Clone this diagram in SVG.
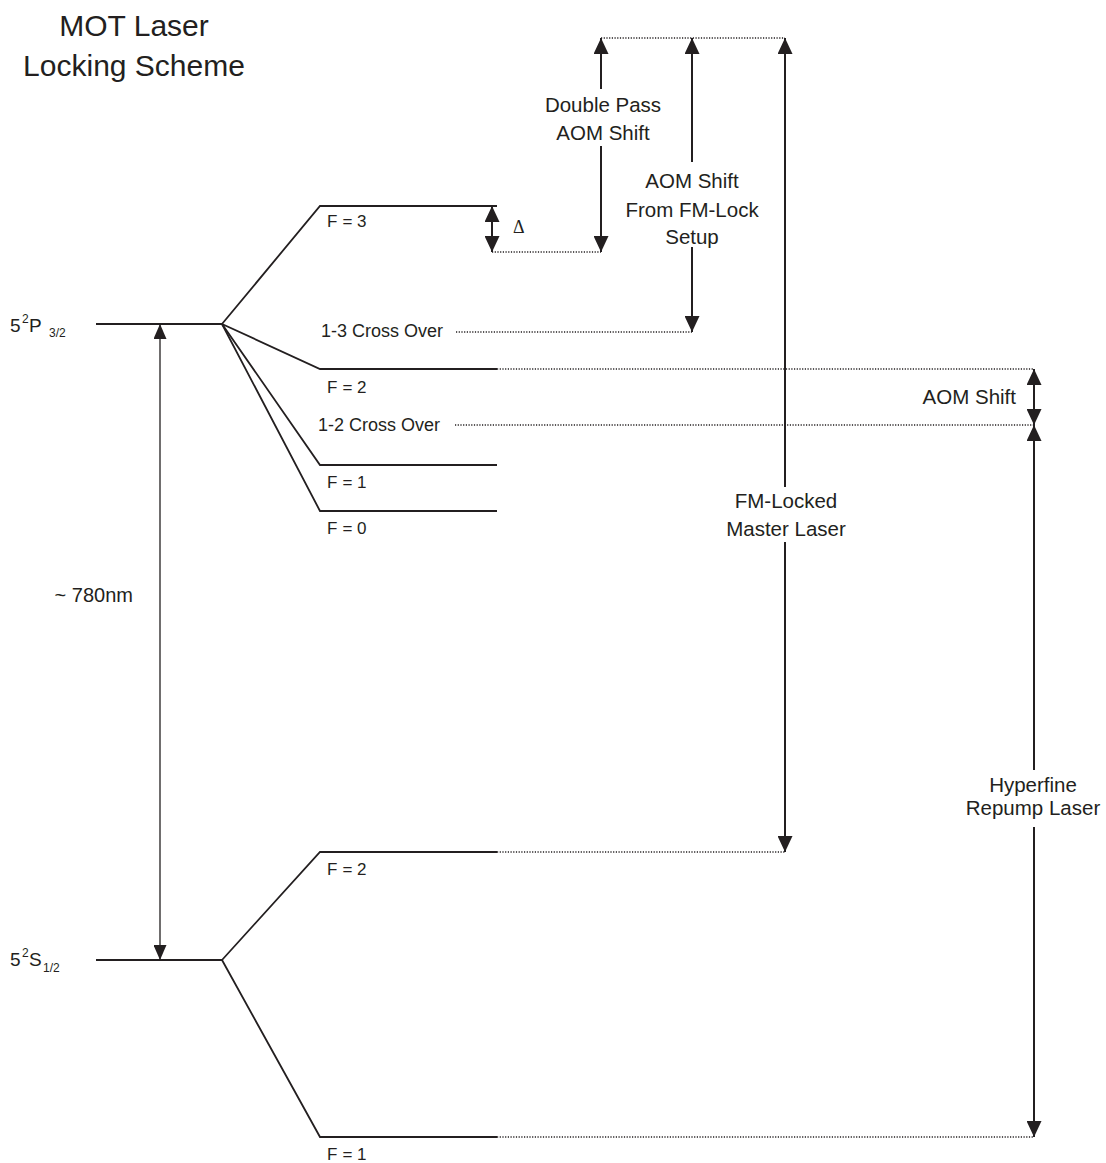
<svg xmlns="http://www.w3.org/2000/svg" width="1106" height="1163" viewBox="0 0 1106 1163">
<style>
text{font-family:"Liberation Sans",Arial,sans-serif;fill:#231f20}
.lvl{stroke:#231f20;stroke-width:2;fill:none}
.br{stroke:#231f20;stroke-width:1.8;fill:none}
.dot{stroke:#231f20;stroke-width:1.3;stroke-dasharray:1.2 1.5;fill:none}
.arr{stroke:#231f20;stroke-width:2;fill:none}
.arrs{stroke:#231f20;stroke-width:1.3;fill:none}
.t{font-size:20.5px;text-anchor:middle}
.f{font-size:17px}
.c{font-size:18px}
</style>
<defs>
<marker id="ah" markerUnits="userSpaceOnUse" viewBox="0 0 16 15" refX="16" refY="7.5" markerWidth="16" markerHeight="15" orient="auto-start-reverse"><path d="M0,0 L16,7.5 L0,15 Z" fill="#231f20"/></marker>
<marker id="ahs" markerUnits="userSpaceOnUse" viewBox="0 0 15 13" refX="15" refY="6.5" markerWidth="15" markerHeight="13" orient="auto-start-reverse"><path d="M0,0 L15,6.5 L0,13 Z" fill="#231f20"/></marker>
</defs>

<g id="title">
<text x="134" y="36" font-size="30" text-anchor="middle">MOT Laser</text>
<text x="134" y="76" font-size="30" text-anchor="middle">Locking Scheme</text>
</g>

<g id="level-5P32">
<line class="lvl" x1="96" y1="324" x2="222" y2="324"/>
<text font-size="19"><tspan x="10" y="332">5</tspan><tspan x="22" y="323" font-size="12">2</tspan><tspan x="29" y="332">P</tspan><tspan x="49" y="337" font-size="12">3/2</tspan></text>
</g>
<g id="level-5S12">
<line class="lvl" x1="96" y1="960" x2="222" y2="960"/>
<text font-size="19"><tspan x="10" y="966">5</tspan><tspan x="22" y="957" font-size="12">2</tspan><tspan x="29" y="966">S</tspan><tspan x="43" y="972" font-size="12">1/2</tspan></text>
</g>

<g id="P-F3">
<polyline class="br" points="222,324 320,206 497,206"/>
<text class="f" x="327" y="227">F<tspan dx="5">= 3</tspan></text>
</g>
<g id="P-F2">
<polyline class="br" points="222,324 320,369 497,369"/>
<text class="f" x="327" y="393">F<tspan dx="5">= 2</tspan></text>
</g>
<g id="P-F1">
<polyline class="br" points="222,324 320,465 497,465"/>
<text class="f" x="327" y="488">F<tspan dx="5">= 1</tspan></text>
</g>
<g id="P-F0">
<polyline class="br" points="222,324 320,511 497,511"/>
<text class="f" x="327" y="534">F<tspan dx="5">= 0</tspan></text>
</g>
<g id="cross-13">
<text class="c" x="321" y="337">1-3 Cross Over</text>
</g>
<g id="cross-12">
<text class="c" x="318" y="431">1-2 Cross Over</text>
</g>
<g id="S-F2">
<polyline class="br" points="222,960 320,852 497,852"/>
<text class="f" x="327" y="875">F<tspan dx="5">= 2</tspan></text>
</g>
<g id="S-F1">
<polyline class="br" points="222,960 320,1137 497,1137"/>
<text class="f" x="327" y="1160">F<tspan dx="5">= 1</tspan></text>
</g>

<g id="connectors">
<!-- dotted reference lines -->
<line class="dot" x1="601" y1="38" x2="785" y2="38"/>
<line class="dot" x1="492" y1="252" x2="601" y2="252"/>
<line class="dot" x1="456" y1="332" x2="692" y2="332"/>
<line class="dot" x1="497" y1="369" x2="1034" y2="369"/>
<line class="dot" x1="455" y1="425" x2="1034" y2="425"/>
<line class="dot" x1="497" y1="852" x2="785" y2="852"/>
<line class="dot" x1="497" y1="1137" x2="1034" y2="1137"/>

<!-- 780nm -->
<line class="arrs" x1="160" y1="324" x2="160" y2="960" marker-start="url(#ahs)" marker-end="url(#ahs)"/>
<!-- delta -->
<line class="arr" x1="492" y1="206" x2="492" y2="252" marker-start="url(#ah)" marker-end="url(#ah)"/>
<!-- double pass -->
<line class="arr" x1="601" y1="38" x2="601" y2="89" marker-start="url(#ah)"/>
<line class="arr" x1="601" y1="146" x2="601" y2="252" marker-end="url(#ah)"/>
<!-- AOM shift from FM-lock -->
<line class="arr" x1="692" y1="38" x2="692" y2="162" marker-start="url(#ah)"/>
<line class="arr" x1="692" y1="247" x2="692" y2="332" marker-end="url(#ah)"/>
<!-- FM-locked master -->
<line class="arr" x1="785" y1="38" x2="785" y2="487" marker-start="url(#ah)"/>
<line class="arr" x1="785" y1="542" x2="785" y2="852" marker-end="url(#ah)"/>
<!-- AOM shift right -->
<line class="arr" x1="1034" y1="369" x2="1034" y2="425" marker-start="url(#ah)" marker-end="url(#ah)"/>
<!-- hyperfine repump -->
<line class="arr" x1="1034" y1="425" x2="1034" y2="770" marker-start="url(#ah)"/>
<line class="arr" x1="1034" y1="827" x2="1034" y2="1137" marker-end="url(#ah)"/>
</g>

<g id="labels">
<text x="133" y="602" font-size="20" text-anchor="end">~ 780nm</text>
<text x="513" y="233" font-size="18" style="font-family:'Liberation Serif',serif">Δ</text>
<text class="t" x="603" y="112">Double Pass</text>
<text class="t" x="603" y="140">AOM Shift</text>
<text class="t" x="692" y="188">AOM Shift</text>
<text class="t" x="692" y="217">From FM-Lock</text>
<text class="t" x="692" y="244">Setup</text>
<text class="t" x="786" y="508">FM-Locked</text>
<text class="t" x="786" y="536">Master Laser</text>
<text class="t" x="1033" y="792">Hyperfine</text>
<text class="t" x="1033" y="815">Repump Laser</text>
<text x="1016" y="404" font-size="20.5" text-anchor="end">AOM Shift</text>
</g>
</svg>
